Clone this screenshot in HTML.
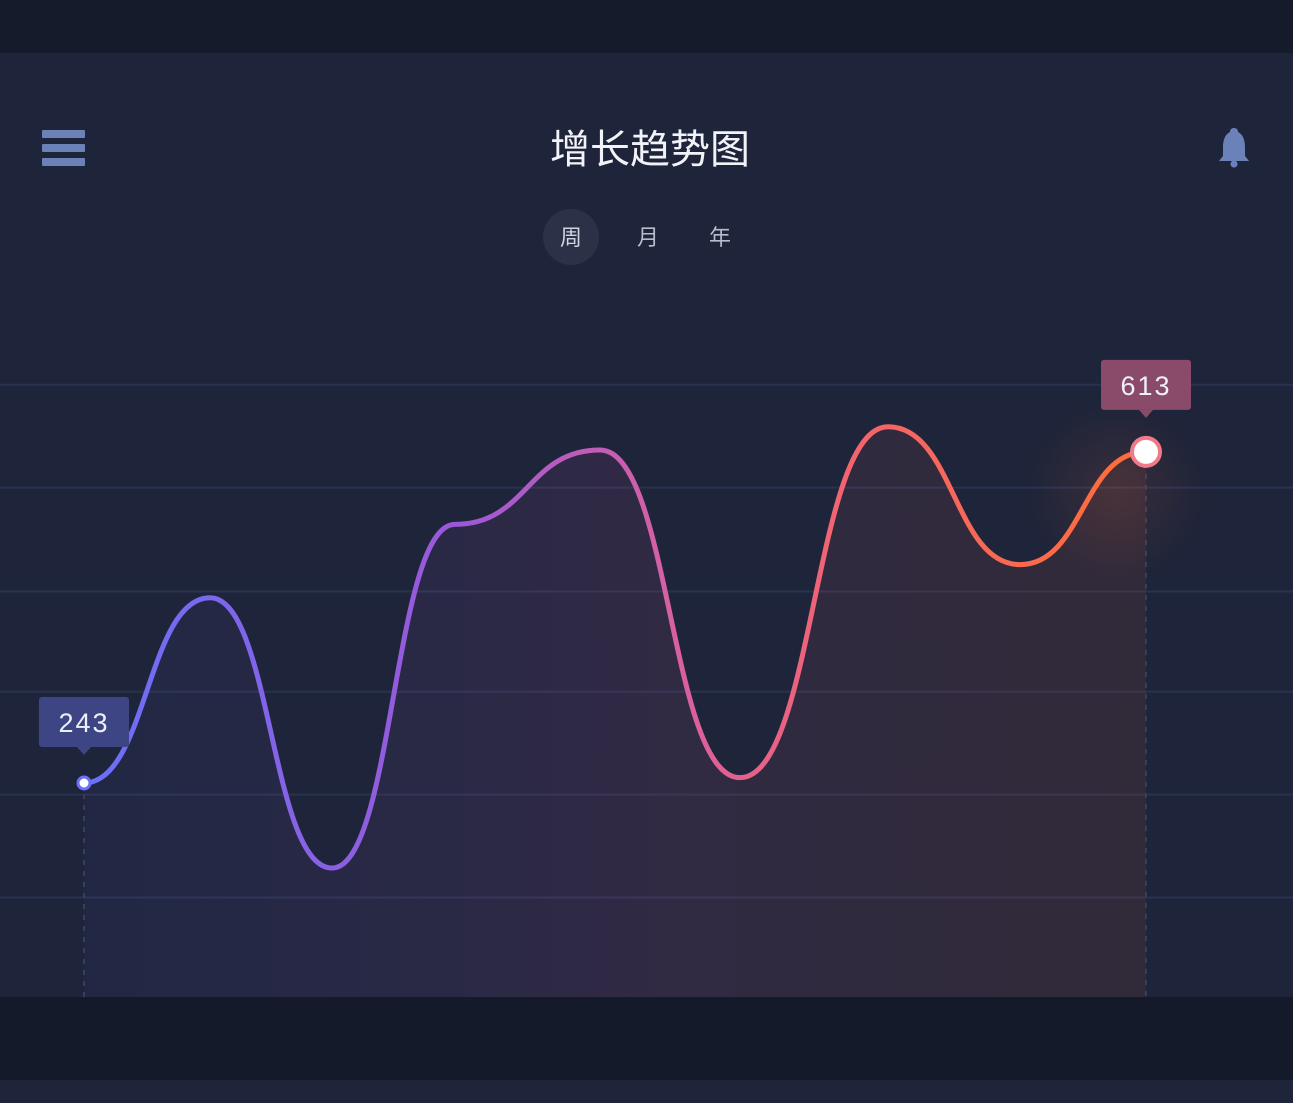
<!DOCTYPE html>
<html><head><meta charset="utf-8"><style>
body{margin:0;width:1293px;height:1098px;overflow:hidden;background:#1e2439;font-family:"Liberation Sans","Noto Sans CJK SC",sans-serif;}
#wrap{position:relative;width:1293px;height:1098px;}
</style></head><body>
<div id="wrap">
<svg width="1293" height="1098" viewBox="0 0 1293 1098" xmlns="http://www.w3.org/2000/svg" id="svg">
<defs>
<linearGradient id="lg" x1="84" y1="0" x2="1146" y2="0" gradientUnits="userSpaceOnUse">
<stop offset="0" stop-color="#6a70f8"/><stop offset="0.35" stop-color="#9a58d8"/>
<stop offset="0.55" stop-color="#d660a4"/><stop offset="0.72" stop-color="#f3646e"/>
<stop offset="1" stop-color="#ff6d38"/></linearGradient>
<linearGradient id="af" x1="0" y1="0" x2="1" y2="0">
<stop offset="0" stop-color="#5a5ee0" stop-opacity="0.06"/><stop offset="0.5" stop-color="#b0509a" stop-opacity="0.12"/>
<stop offset="1" stop-color="#ff6d38" stop-opacity="0.08"/></linearGradient>
<radialGradient id="glow"><stop offset="0" stop-color="#ff7040" stop-opacity="0.12"/><stop offset="1" stop-color="#ff7040" stop-opacity="0"/></radialGradient>
</defs>
<rect x="0" y="0" width="1293" height="53" fill="#161b2b"/>
<rect x="0" y="997" width="1293" height="83" fill="#151a2a"/>
<g id="grid"></g>
<g id="plot"></g>
<g fill="#6b82b8">
<rect x="42" y="130" width="43" height="8" rx="1"/><rect x="42" y="144" width="43" height="8" rx="1"/><rect x="42" y="158" width="43" height="8" rx="1"/></g>
<g fill="#6b82b8">
<path d="M1234 128 c-3 0 -4 2 -4 4 c-6 3 -7 10 -7 16 l0 8 l-4 5 l30 0 l-4 -5 l0 -8 c0 -6 -1 -13 -7 -16 c0 -2 -1 -4 -4 -4z"/><circle cx="1234" cy="164" r="3.5"/></g>
<text x="650" y="163" text-anchor="middle" font-size="40" fill="#f2f3f8">增长趋势图</text>
<circle cx="571" cy="237" r="28" fill="#2b3248"/>
<text x="571" y="245" text-anchor="middle" font-size="22" fill="#d0d3df">周</text>
<text x="648" y="245" text-anchor="middle" font-size="22" fill="#b8bccb">月</text>
<text x="720" y="245" text-anchor="middle" font-size="22" fill="#b8bccb">年</text>
</svg>
</div>
<script>
const xs=[0,1,2,3,4,5,6,7,8];
const values=[243,450,148,532,615,249,641,487,613];
const gridValues=[688,573,457,345,230,115];
const NS="http://www.w3.org/2000/svg";
const xPx=[84,210,332,455,600,740,888,1020,1146];
function X(i){return xPx[i];}
function Y(v){return 783-(v-243)*0.895;}
function mk(t,a,p){const e=document.createElementNS(NS,t);for(const k in a)e.setAttribute(k,a[k]);p.appendChild(e);return e;}
const grid=document.getElementById('grid'),plot=document.getElementById('plot');
gridValues.forEach(v=>{const l=mk('line',{x1:0,x2:1293,y1:Y(v),y2:Y(v),stroke:'#2a3250','stroke-width':2},grid);

});
let d='M'+X(0)+' '+Y(values[0]);
for(let i=1;i<values.length;i++){const x0=X(i-1),x1=X(i),dx=(x1-x0)*0.5;
d+=' C'+(x0+dx)+' '+Y(values[i-1])+' '+(x1-dx)+' '+Y(values[i])+' '+x1+' '+Y(values[i]);}
const area=mk('path',{d:d+' L'+X(8)+' 997 L'+X(0)+' 997 Z',fill:'url(#af)'},plot);


[0,8].forEach(i=>{const l=mk('line',{x1:X(i),x2:X(i),y1:Y(values[i]),y2:997,stroke:'#363e5c','stroke-width':2,'stroke-dasharray':'5 6'},plot);

});
const gl=mk('circle',{cx:X(8)-30,cy:Y(values[8])+40,r:90,fill:'url(#glow)'},plot);


const line=mk('path',{d:d,fill:'none',stroke:'url(#lg)','stroke-width':5,'stroke-linecap':'round'},plot);


const p0=mk('circle',{cx:X(0),cy:Y(values[0]),r:6,fill:'#fff',stroke:'#6a70f8','stroke-width':3},plot);


const p8=mk('circle',{cx:X(8),cy:Y(values[8]),r:14,fill:'#fff',stroke:'#f07a8a','stroke-width':4},plot);


function tip(i,color,name,off){const cx=X(i),cy=Y(values[i])-off;
const g=mk('g',{},plot);


mk('rect',{x:cx-45,y:cy-52,width:90,height:50,rx:3,fill:color},g);
mk('path',{d:'M'+(cx-7)+' '+(cy-2)+' L'+cx+' '+(cy+6)+' L'+(cx+7)+' '+(cy-2)+'Z',fill:color},g);
const t=mk('text',{x:cx,y:cy-17,'text-anchor':'middle','font-size':27,fill:'#eef0f8','letter-spacing':2},g);t.textContent=values[i];}
tip(0,'#3d4585','start-label',34);
tip(8,'#8a4b6a','end-label',40);
</script>
</body></html>
